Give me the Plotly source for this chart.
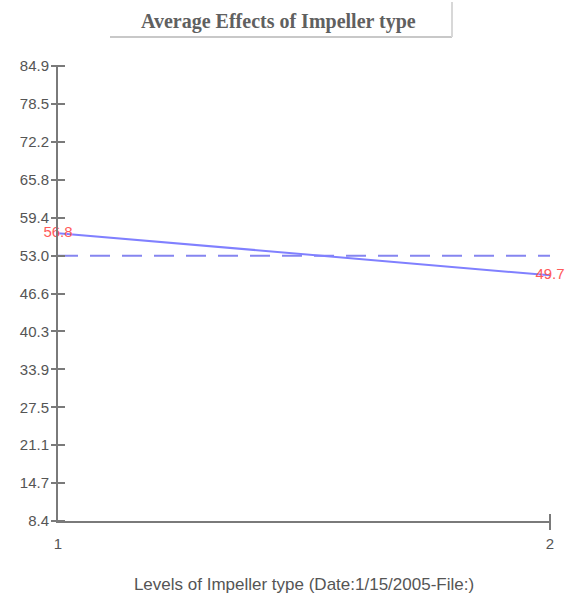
import plotly.graph_objects as go

levels = [1, 2]
effects = [56.8, 49.7]
effect_labels = ["56.8", "49.7"]
overall_mean = [53.0, 53.0]
ytick_vals = [8.4, 14.775, 21.15, 27.525, 33.9, 40.275, 46.65, 53.025, 59.4, 65.775, 72.15, 78.525, 84.9]
ytick_text = ["8.4", "14.7", "21.1", "27.5", "33.9", "40.3", "46.6", "53.0", "59.4", "65.8", "72.2", "78.5", "84.9"]
xtick_vals = [1, 2]
xtick_text = ["1", "2"]

grey = "#555555"
axis_col = "#7a7a7a"
font = "Liberation Sans"
H = 455.0
W = 492.0

fig = go.Figure()
fig.add_trace(go.Scatter(x=levels, y=overall_mean, mode="lines",
                         line=dict(color="#8585f0", width=2, dash="20px,12px"),
                         hoverinfo="skip", showlegend=False))
fig.add_trace(go.Scatter(x=levels, y=effects, mode="lines+text",
                         line=dict(color="#8080ff", width=2),
                         text=effect_labels, textposition="middle center",
                         textfont=dict(color="#ff5a5a", size=15, family=font),
                         showlegend=False, cliponaxis=False))
# tick-only helper axes so ticks straddle the axis lines
fig.add_trace(go.Scatter(x=levels, y=effects, mode="markers", marker=dict(opacity=0),
                         xaxis="x", yaxis="y2", showlegend=False, hoverinfo="skip"))
fig.add_trace(go.Scatter(x=levels, y=effects, mode="markers", marker=dict(opacity=0),
                         xaxis="x2", yaxis="y", showlegend=False, hoverinfo="skip"))

fig.update_layout(
    width=568, height=606,
    margin=dict(l=58, r=18, t=66, b=85),
    paper_bgcolor="white", plot_bgcolor="white",
    xaxis=dict(range=[1, 2], tickvals=xtick_vals, ticktext=xtick_text,
               showgrid=False, zeroline=False, showline=True, linecolor=axis_col, linewidth=2,
               ticks="outside", ticklen=8, tickcolor="rgba(0,0,0,0)",
               tickfont=dict(size=15, color=grey, family=font),
               title=dict(text="Levels of Impeller type (Date:1/15/2005-File:)",
                          font=dict(size=17, color=grey, family=font), standoff=27)),
    yaxis=dict(range=[8.4, 84.9], tickvals=ytick_vals, ticktext=ytick_text,
               showgrid=False, zeroline=False, showline=True, linecolor=axis_col, linewidth=2,
               ticks="outside", ticklen=4, tickcolor="rgba(0,0,0,0)",
               tickfont=dict(size=15, color=grey, family=font)),
    yaxis2=dict(range=[8.4, 84.9], overlaying="y", anchor="free", position=7 / W, side="left",
                tickvals=ytick_vals, showticklabels=False, showgrid=False, zeroline=False,
                showline=False, ticks="outside", ticklen=14, tickcolor=axis_col, tickwidth=1.5),
    xaxis2=dict(range=[1, 2], overlaying="x", anchor="free", position=8 / H, side="bottom",
                tickvals=[2], showticklabels=False, showgrid=False, zeroline=False,
                showline=False, ticks="outside", ticklen=16, tickcolor=axis_col, tickwidth=1.5),
    annotations=[dict(text="<b>Average Effects of Impeller type</b>", xref="paper", yref="paper",
                      x=(278 - 58) / W, y=1 + 44 / H, xanchor="center", yanchor="middle",
                      showarrow=False, font=dict(size=20, color="#606060", family="Liberation Serif"))],
    shapes=[
        dict(type="line", xref="paper", yref="paper",
             x0=(110 - 58) / W, x1=(452 - 58) / W, y0=1 + 29 / H, y1=1 + 29 / H,
             line=dict(color="#c8c8c8", width=2)),
        dict(type="line", xref="paper", yref="paper",
             x0=(452 - 58) / W, x1=(452 - 58) / W, y0=1 + 29 / H, y1=1 + 64 / H,
             line=dict(color="#d8d8d8", width=2)),
    ],
)

fig.write_html("out.html")
